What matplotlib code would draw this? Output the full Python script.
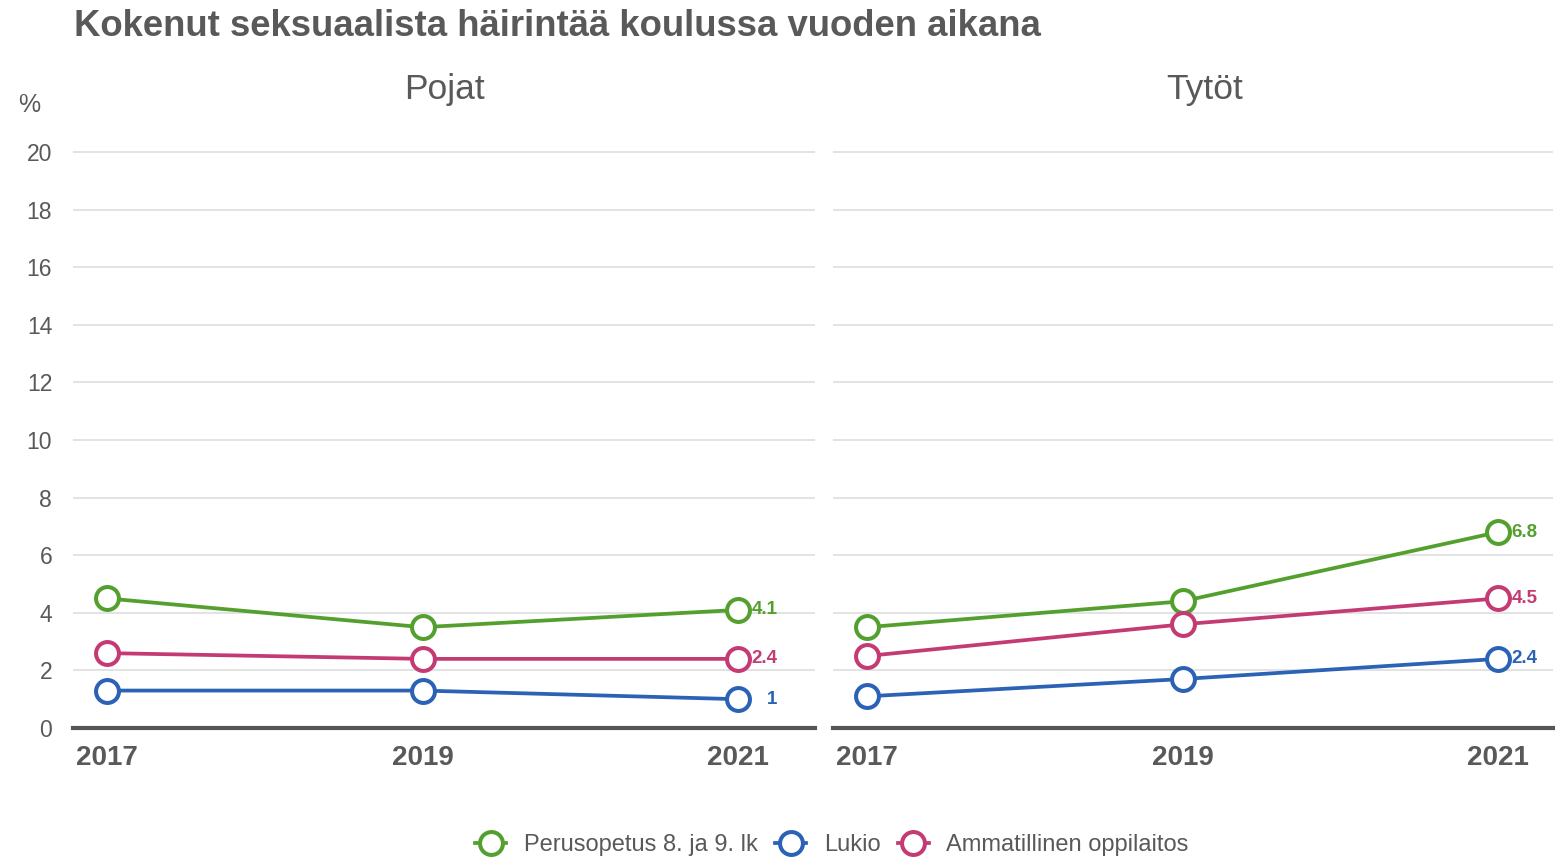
import matplotlib
matplotlib.use("Agg")
import matplotlib.pyplot as plt
from matplotlib.lines import Line2D

plt.rcParams['font.family'] = ['Liberation Sans', 'DejaVu Sans']

years = [2017, 2019, 2021]
series = ["Perusopetus 8. ja 9. lk", "Lukio", "Ammatillinen oppilaitos"]
colors = ["#54a02e", "#2b62b5", "#c43b74"]

pojat_perus = [4.5, 3.5, 4.1]
pojat_lukio = [1.3, 1.3, 1.0]
pojat_amm = [2.6, 2.4, 2.4]

tytot_perus = [3.5, 4.4, 6.8]
tytot_lukio = [1.1, 1.7, 2.4]
tytot_amm = [2.5, 3.6, 4.5]

labels_pojat = ["4.1", "1", "2.4"]
labels_tytot = ["6.8", "2.4", "4.5"]

yticks = list(range(0, 21, 2))
panel_titles = ["Pojat", "Tytöt"]
title = "Kokenut seksuaalista häirintää koulussa vuoden aikana"

TXT = "#595959"
GRID = "#dedede"

W, H = 1555, 859
fig = plt.figure(figsize=(W / 100, H / 100), dpi=100)

pxu = 157.75
ybot = (H - 728) / H
ytop_val = 20.3
ppu = 28.8
axh = (728 - (152 - (ytop_val - 20) * ppu)) / H

ax1 = fig.add_axes([73 / W, ybot, 742 / W, axh])
ax2 = fig.add_axes([833 / W, ybot, 720 / W, axh])

panels = [
    (ax1, [pojat_perus, pojat_lukio, pojat_amm], labels_pojat, (2017 - 34 / pxu, 2021 + 77 / pxu)),
    (ax2, [tytot_perus, tytot_lukio, tytot_amm], labels_tytot, (2017 - 34 / pxu, 2021 + 55 / pxu)),
]

MS = 16.5
MEW = 2.9
LW = 2.7

for i, (ax, data, labs, xl) in enumerate(panels):
    ax.set_xlim(*xl)
    ax.set_ylim(0, ytop_val)
    for y in yticks[1:]:
        ax.axhline(y, color=GRID, lw=1.2, zorder=0)
    for vals, col, lab in zip(data, colors, labs):
        ax.plot(years, vals, color=col, lw=LW, marker='o', markersize=MS,
                markerfacecolor='white', markeredgecolor=col, markeredgewidth=MEW,
                zorder=3, clip_on=False)
        ax.annotate(lab, (years[-1], vals[-1]), xytext=(28.5, 0), textcoords='offset points',
                    ha='right', va='center', color=col, fontsize=13.5, fontweight='bold')
    for s in ax.spines.values():
        s.set_visible(False)
    ax.axhline(0, color="#555555", lw=3, zorder=2, clip_on=False)
    ax.set_xticks(years)
    ax.set_xticklabels([str(y) for y in years], fontsize=20, fontweight='bold', color=TXT)
    ax.tick_params(axis='x', length=0, pad=12)
    ax.set_yticks(yticks)
    if i == 0:
        ax.set_yticklabels([str(y) for y in yticks], fontsize=16.5, color=TXT)
        ax.tick_params(axis='y', length=0, pad=15)
    else:
        ax.set_yticklabels([])
        ax.tick_params(axis='y', length=0)
    ax.set_facecolor('none')

fig.text(444 / W, 1 - 89 / H, panel_titles[0], fontsize=25.5, color=TXT, ha='center', va='center')
fig.text(1205 / W, 1 - 89 / H, panel_titles[1], fontsize=25.5, color=TXT, ha='center', va='center')
fig.text(29 / W, 1 - 105 / H, "%", fontsize=18, color=TXT, ha='center', va='center')
fig.text(74 / W, 1 - 27 / H, title, fontsize=26.3, fontweight='bold', color=TXT, ha='left', va='center')

handles = [Line2D([0], [0], color=c, lw=LW, marker='o', markersize=MS,
                  markerfacecolor='white', markeredgecolor=c, markeredgewidth=MEW) for c in colors]
fig.legend(handles, series, loc='center', bbox_to_anchor=(832 / W, 1 - 845 / H), ncol=3,
           frameon=False, fontsize=17, labelcolor=TXT, handlelength=1.3, handletextpad=0.75,
           columnspacing=0.75)

fig.savefig("out.png", dpi=100, facecolor='white')
